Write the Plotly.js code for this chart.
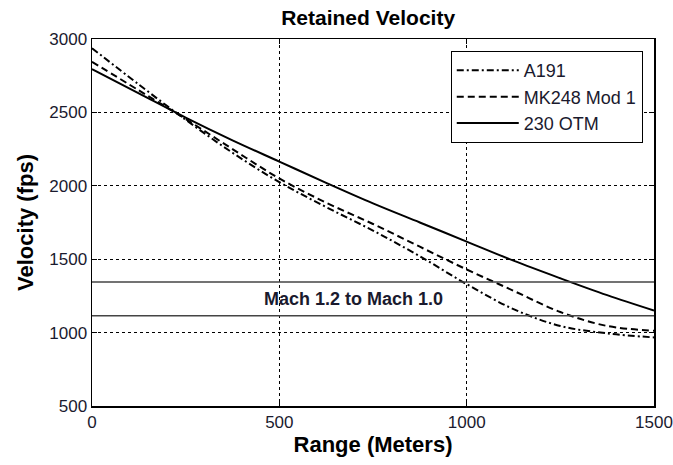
<!DOCTYPE html>
<html>
<head>
<meta charset="utf-8">
<script src="https://cdn.plot.ly/plotly-3.0.1.min.js"></script>
<style>html,body{margin:0;padding:0;background:#fff;}#chart{width:673px;height:465px;}</style>
</head>
<body>
<div id="chart"></div>
<script>
// Data (range in meters, velocity in fps)
const rangeM = [0, 125, 250, 375, 500, 625, 750, 875, 1000, 1125, 1250, 1375, 1500];
const a191 = [2937, 2690, 2450, 2225, 2025, 1855, 1695, 1520, 1330, 1160, 1045, 995, 967];
const mk248 = [2845, 2650, 2455, 2250, 2050, 1885, 1740, 1585, 1430, 1285, 1140, 1045, 1013];
const otm230 = [2795, 2630, 2465, 2310, 2165, 2020, 1880, 1750, 1620, 1490, 1370, 1255, 1150];
const machRangeX = [0, 1500];
const mach12 = 1345;
const mach10 = 1115;
const machLabel = "Mach 1.2 to Mach 1.0";
const xTicks = [0, 500, 1000, 1500];
const yTicks = [500, 1000, 1500, 2000, 2500, 3000];

const font = "Liberation Sans, Arial, sans-serif";

const traces = [
  {x: rangeM, y: a191, name: "A191", mode: "lines", legendgroup: "a",
   line: {color: "#000", width: 2, dash: "7px,3px,2px,3px", shape: "spline"}},
  {x: rangeM, y: mk248, name: "MK248 Mod 1", mode: "lines", legendgroup: "b",
   line: {color: "#000", width: 2, dash: "7px,4px", shape: "spline"}},
  {x: rangeM, y: otm230, name: "230 OTM", mode: "lines", legendgroup: "c",
   line: {color: "#000", width: 2, shape: "spline"}},
  {x: machRangeX, y: [mach12, mach12], mode: "lines", showlegend: false, hoverinfo: "skip",
   line: {color: "#444", width: 1.5}},
  {x: machRangeX, y: [mach10, mach10], mode: "lines", showlegend: false, hoverinfo: "skip",
   line: {color: "#444", width: 1.5}}
];

const axisCommon = {
  showline: true, linecolor: "#000", linewidth: 1.5, mirror: "ticks",
  ticks: "inside", ticklen: 5, tickcolor: "#000",
  showgrid: true, gridcolor: "#000", gridwidth: 1, griddash: "3px,3px",
  zeroline: false, automargin: false,
  tickfont: {family: font, size: 17, color: "#1a1a2e"}
};

const layout = {
  width: 673, height: 465,
  margin: {l: 92, r: 19, t: 39, b: 59},
  paper_bgcolor: "#fff", plot_bgcolor: "#fff",
  showlegend: true,
  title: {text: "Retained Velocity", x: 0.547, xanchor: "center", y: 0.962, yanchor: "middle",
          font: {family: font, size: 21, weight: "bold", color: "#000"}},
  xaxis: Object.assign({}, axisCommon, {
    range: [0, 1500], tickvals: xTicks, ticktext: xTicks.map(String),
    title: {text: "Range (Meters)", standoff: 4, font: {family: font, size: 22, weight: "bold", color: "#000"}}
  }),
  yaxis: Object.assign({}, axisCommon, {
    range: [500, 3000], tickvals: yTicks, ticktext: yTicks.map(String),
    title: {text: "Velocity (fps)", standoff: 9, font: {family: font, size: 22, weight: "bold", color: "#000"}}
  }),
  legend: {
    x: 0.98, xanchor: "right", y: 0.967, yanchor: "top",
    bgcolor: "#fff", bordercolor: "#000", borderwidth: 1,
    font: {family: font, size: 18, color: "#1a1a2e"},
    itemwidth: 62,
    traceorder: "grouped", tracegroupgap: 0
  },
  annotations: [{
    x: 697, y: (mach12 + mach10) / 2, xref: "x", yref: "y", text: machLabel, showarrow: false,
    font: {family: font, size: 18, weight: "bold", color: "#1a1a2e"}
  }]
};

Plotly.newPlot("chart", traces, layout, {displayModeBar: false, staticPlot: true});
</script>
</body>
</html>
